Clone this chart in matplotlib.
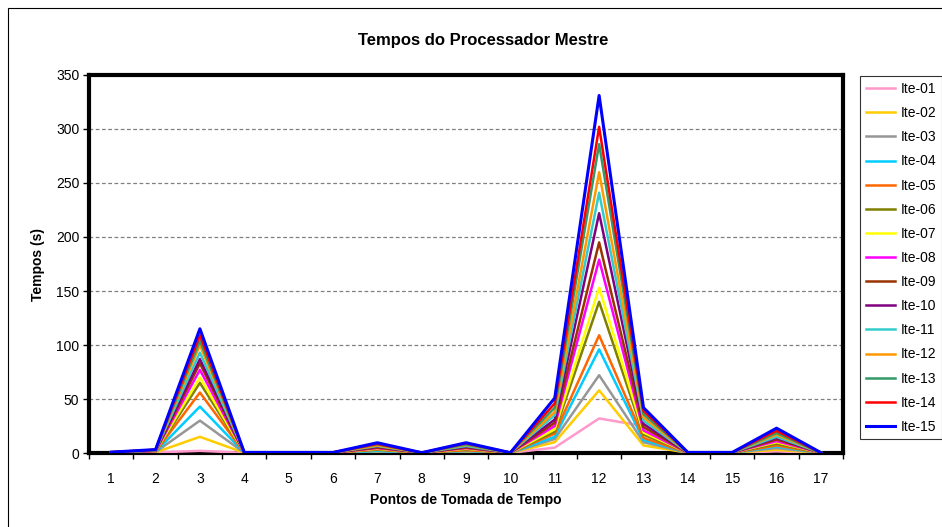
import matplotlib
matplotlib.use("Agg")
import matplotlib.pyplot as plt
from matplotlib.patches import Rectangle

plt.rcParams['font.family'] = ['Liberation Sans', 'DejaVu Sans']

points = list(range(1, 18))
labels = [f"Ite-{i:02d}" for i in range(1, 16)]
colors = ["#FF99CC", "#FFCC00", "#969696", "#00CCFF", "#FF6600",
          "#808000", "#FFFF00", "#FF00FF", "#993300", "#800080",
          "#33CCCC", "#FF9900", "#339966", "#FF0000", "#0000FF"]

ite01 = [0.3, 0.5, 2, 0.2, 0.2, 0.2, 0.5, 0.1, 0.5, 0.1, 5, 32, 25, 0.2, 0.2, 1.5, 0.1]
ite02 = [0.3, 0.6, 15, 0.2, 0.2, 0.2, 1.0, 0.1, 1.0, 0.1, 10, 58, 7, 0.2, 0.2, 3, 0.1]
ite03 = [0.3, 0.8, 30, 0.2, 0.2, 0.2, 1.5, 0.1, 1.5, 0.1, 13, 72, 10, 0.2, 0.2, 4.5, 0.1]
ite04 = [0.4, 1.0, 43, 0.2, 0.2, 0.2, 2.0, 0.1, 2.0, 0.1, 15, 96, 12, 0.2, 0.2, 6, 0.1]
ite05 = [0.4, 1.2, 56, 0.2, 0.2, 0.2, 3.0, 0.1, 2.5, 0.1, 18, 109, 14, 0.2, 0.2, 7, 0.1]
ite06 = [0.4, 1.4, 65, 0.3, 0.2, 0.3, 3.5, 0.1, 3.5, 0.1, 20, 140, 17, 0.3, 0.2, 8.5, 0.1]
ite07 = [0.5, 1.6, 70, 0.3, 0.3, 0.3, 4.0, 0.1, 4.0, 0.1, 22, 153, 19, 0.3, 0.3, 10, 0.1]
ite08 = [0.5, 1.8, 77, 0.3, 0.3, 0.3, 4.5, 0.2, 4.5, 0.2, 25, 179, 21, 0.3, 0.3, 11, 0.2]
ite09 = [0.5, 2.0, 83, 0.3, 0.3, 0.3, 5.0, 0.2, 5.0, 0.2, 28, 195, 24, 0.3, 0.3, 12.5, 0.2]
ite10 = [0.6, 2.2, 87, 0.4, 0.3, 0.4, 6.0, 0.2, 6.0, 0.2, 31, 222, 27, 0.4, 0.3, 14, 0.2]
ite11 = [0.6, 2.4, 93, 0.4, 0.4, 0.4, 6.5, 0.2, 6.5, 0.2, 35, 241, 30, 0.4, 0.4, 15, 0.2]
ite12 = [0.7, 2.6, 100, 0.4, 0.4, 0.4, 7.0, 0.2, 7.5, 0.2, 38, 260, 33, 0.4, 0.4, 17, 0.2]
ite13 = [0.7, 2.8, 104, 0.5, 0.4, 0.5, 8.0, 0.3, 8.0, 0.3, 42, 286, 36, 0.5, 0.4, 18.5, 0.3]
ite14 = [0.8, 3.0, 109, 0.5, 0.5, 0.5, 8.5, 0.3, 9.0, 0.3, 46, 302, 39, 0.5, 0.5, 20.5, 0.3]
ite15 = [0.8, 3.2, 115, 0.5, 0.5, 0.5, 9.5, 0.3, 9.5, 0.3, 51, 331, 42, 0.5, 0.5, 23, 0.3]
series = [ite01, ite02, ite03, ite04, ite05, ite06, ite07, ite08, ite09, ite10,
          ite11, ite12, ite13, ite14, ite15]

yticks = [0, 50, 100, 150, 200, 250, 300, 350]

fig = plt.figure(figsize=(9.42, 5.27), dpi=100)
fig.patches.append(Rectangle((0.009, -0.02), 1.1, 1.005, transform=fig.transFigure,
                             fill=False, edgecolor="black", linewidth=0.8))
ax = fig.add_axes([0.0945, 0.1404, 0.8005, 0.7173])

for i, (vals, lab, col) in enumerate(zip(series, labels, colors)):
    lw = 2.2 if i == 14 else 1.8
    ax.plot(points, vals, color=col, linewidth=lw, label=lab, zorder=3 + i)

ax.set_xlim(0.5, 17.5)
ax.set_ylim(0, 350)
ax.set_yticks(yticks)
ax.set_xticks(points)
ax.set_xticks([p + 0.5 for p in range(0, 18)], minor=True)
ax.tick_params(axis='x', which='major', length=0, labelsize=10, pad=14)
ax.tick_params(axis='x', which='minor', length=4, width=1, direction='out')
ax.tick_params(axis='y', labelsize=10, length=4, width=1, direction='out', pad=3)
ax.grid(axis='y', linestyle=(0, (3, 2)), color='#808080', linewidth=0.9, zorder=1)
for s in ax.spines.values():
    s.set_linewidth(3)
    s.set_zorder(2.5)

ax.set_ylabel("Tempos (s)", fontsize=10, fontweight='bold', labelpad=8)
ax.set_xlabel("Pontos de Tomada de Tempo", fontsize=10, fontweight='bold', labelpad=5)
fig.text(0.513, 0.924, "Tempos do Processador Mestre", ha='center', va='center',
         fontsize=12, fontweight='bold')

leg = fig.legend(loc='upper left', bbox_to_anchor=(0.913, 0.855), fontsize=10,
                 frameon=True, fancybox=False, edgecolor='black', handlelength=2.15,
                 labelspacing=0.73, borderpad=0.4, handletextpad=0.4,
                 borderaxespad=0)
leg.get_frame().set_linewidth(0.8)

fig.savefig("out.png", dpi=100)
